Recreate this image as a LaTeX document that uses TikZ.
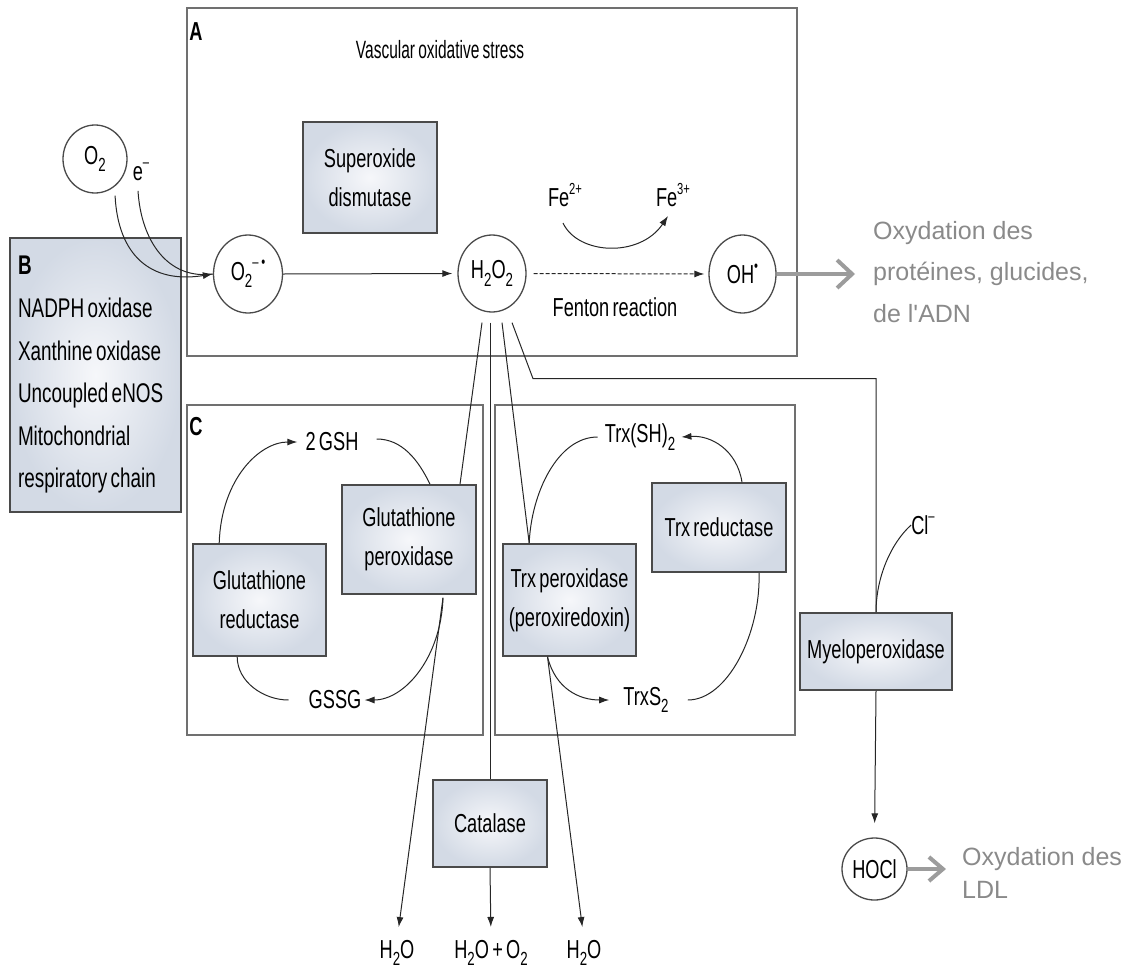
\documentclass[tikz,border=0pt]{standalone}
\usepackage{fontspec}
\setmainfont{Liberation Sans}[FakeStretch=0.70,WordSpace=0.65]
\newfontfamily\condf{Liberation Sans}[FakeStretch=0.62,WordSpace=0.75]
\newfontfamily\grayf{Liberation Sans}
\usetikzlibrary{arrows.meta,shapes.geometric,calc}
\definecolor{boxfill}{HTML}{D3DAE5}
\definecolor{boxin}{HTML}{F6F7FA}
\definecolor{edge}{HTML}{4A4A4A}
\definecolor{frame}{HTML}{707070}
\definecolor{txtgray}{HTML}{8A8A8A}
\definecolor{arrgray}{HTML}{9C9C9C}
\newcommand{\mysub}[1]{\raisebox{-0.55ex}{\fontsize{19}{19}\selectfont #1}}
\newcommand{\mysup}[1]{\raisebox{0.9ex}{\fontsize{16}{16}\selectfont #1}}
\begin{document}
\begin{tikzpicture}[x=1pt,y=-1pt,
  every node/.style={font=\fontsize{26}{39}\selectfont, inner sep=0pt},
  enz/.style={rectangle, draw=edge, line width=1.6pt, inner color=boxin, outer color=boxfill, align=center},
  mol/.style={ellipse, draw=edge, line width=1.3pt, fill=white},
  panel/.style={draw=frame, line width=1.3pt},
  conn/.style={line width=1pt, draw=black!85},
  arr/.style={conn, -{Latex[length=10pt,width=7pt]}},
  bigarr/.style={line width=4.5pt, draw=arrgray, -{Straight Barb[length=15pt,width=28pt,line width=4pt]}},
  grayt/.style={font=\grayf\fontsize{25}{41.5}\selectfont, text=txtgray, align=left},
  lab/.style={font=\bfseries\fontsize{26}{26}\selectfont},
]
\useasboundingbox (0,0) rectangle (1137,977);

% panels
\draw[panel] (187,8) rectangle (797,356);
\draw[panel] (187,405) rectangle (483,735);
\draw[panel] (495,405) rectangle (795,735);

\node[lab] (la) at (196,32) {A};
\node[font=\condf\fontsize{25}{25}\selectfont] (title) at (440,50) {Vascular oxidative stress};
\node[lab] (lc) at (196,427) {C};

% source box B
\node[enz, minimum width=171pt, minimum height=274pt, align=flush left, text width=155pt,
      font=\fontsize{27}{42.6}\selectfont] (bsrc) at (95.5,375)
  {\textbf{B}\\NADPH oxidase\\Xanthine oxidase\\Uncoupled eNOS\\Mitochondrial\\respiratory chain};

% molecules
\node[mol, minimum width=64pt, minimum height=68pt] (o2) at (95,159) {O\mysub{2}};
\node (em) at (141,172) {e\mysup{–}};
\node[mol, minimum width=69pt, minimum height=78pt] (sup) at (248,274) {O\mysub{2}\mysup{–\,•}};
\node[mol, minimum width=68pt, minimum height=77pt] (h2o2) at (492,273.5) {H\mysub{2}O\mysub{2}};
\node[mol, minimum width=67pt, minimum height=78pt] (oh) at (742.5,274) {OH\mysup{•}};
\node[mol, minimum width=65pt, minimum height=62pt] (hocl) at (874.5,869) {HOCl};

% enzymes
\node[enz, minimum width=134pt, minimum height=111pt] (sod) at (370,177.5) {Superoxide\\dismutase};
\node[enz, minimum width=134pt, minimum height=109pt] (gpx) at (409,539.5) {Glutathione\\peroxidase};
\node[enz, minimum width=133pt, minimum height=112pt] (gr) at (259.5,600) {Glutathione\\reductase};
\node[enz, minimum width=134pt, minimum height=89pt] (trxr) at (719,527.5) {Trx reductase};
\node[enz, minimum width=133pt, minimum height=112pt] (trxp) at (569.5,600) {Trx peroxidase\\(peroxiredoxin)};
\node[enz, minimum width=114pt, minimum height=87pt] (cat) at (490,823.5) {Catalase};
\node[enz, minimum width=152pt, minimum height=77pt] (mpo) at (876,651.5) {Myeloperoxidase};

% small labels
\node (fe2) at (565,195) {Fe\mysup{2+}};
\node (fe3) at (673,195) {Fe\mysup{3+}};
\node (fenton) at (615,307) {Fenton reaction};
\node (gsh) at (332,442) {2 GSH};
\node (gssg) at (335,700) {GSSG};
\node (trxsh) at (640,437) {Trx(SH)\mysub{2}};
\node (trxs) at (646,700) {TrxS\mysub{2}};
\node (cl) at (923,525) {Cl\mysup{–}};
\node (w1) at (397,953) {H\mysub{2}O};
\node (w2) at (491,953) {H\mysub{2}O + O\mysub{2}};
\node (w3) at (584,953) {H\mysub{2}O};

\node[grayt, anchor=west] (oxy1) at (873,272) {Oxydation des\\protéines, glucides,\\de l'ADN};
\node[grayt, anchor=west, font=\grayf\fontsize{25}{33}\selectfont] (oxy2) at (962,873) {Oxydation des\\LDL};

% O2 -> superoxide
\draw[arr] ($(o2.300)+(3,7)$) .. controls +(3,60) and +(-62,10) .. (sup.west);
\draw[conn] ($(em.south)+(-3,10)$) .. controls +(3,50) and +(-45,6) .. (sup.west);
\draw[arr, shorten >=5pt] (sup.east) -- (h2o2.west);
\draw[arr, dash pattern=on 4pt off 2pt, shorten <=7pt, shorten >=4pt] (h2o2.east) -- (oh.west);
\draw[arr] ($(fe2)+(-2,28)$) .. controls +(15,32) and +(-28,42) .. ($(fe3)+(-5,21)$);
\draw[bigarr] (oh.east) -- ($(oh.east -| oxy1.west)+(-18,0)$);

% H2O2 branches
\draw[conn] ($(h2o2.south)+(-10,10)$) -- ($(gpx.north)+(51,0)$);
\draw[conn] ($(h2o2.south)+(-2,10)$) -- (cat.north);
\draw[conn] ($(h2o2.south)+(10,10)$) -- ($(trxp.north west)+(27,0)$);
\draw[conn] ($(h2o2.south)+(20,10)$) -- ++(21,56) -| (mpo.north);

% glutathione cycle
\draw[arr, shorten >=8pt] ($(gr.north west)+(27,0)$) .. controls +(2,-64) and +(-46,0) .. (gsh.west);
\draw[conn] ($(gsh.east)+(18,-3)$) .. controls +(25,0) and +(-12,-25) .. ($(gpx.north)+(21,0)$);
\draw[arr] ($(gpx.south)+(34,3)$) .. controls +(-2,60) and +(40,0) .. ($(gssg.east)+(3,0)$);
\draw[conn] ($(gssg.west)+(-20,0)$) .. controls +(-25,0) and +(0,25) .. ($(gr.south west)+(45,0)$);

% thioredoxin cycle
\draw[arr] ($(trxr.north)+(23,0)$) .. controls +(-5,-32) and +(30,-2) .. ($(trxsh.east)+(6,0)$);
\draw[conn] ($(trxsh.west)+(-7,0)$) .. controls +(-40,0) and +(2,-50) .. ($(trxp.north west)+(27,0)$);
\draw[arr] ($(trxp.south)+(-22,0)$) .. controls +(8,32) and +(-30,0) .. ($(trxs.west)+(-14,0)$);
\draw[conn] ($(trxs.east)+(19,0)$) .. controls +(40,0) and +(2,60) .. ($(trxr.south)+(40,0)$);

% products
\draw[arr, shorten >=13pt] ($(gpx.south)+(34,3)$) -- (w1.north);
\draw[arr, shorten >=13pt] (cat.south) -- (w2.north);
\draw[arr, shorten >=13pt] ($(trxp.south)+(-22,0)$) -- (w3.north);

% myeloperoxidase
\draw[conn] (cl.west) .. controls +(-20,18) and +(0,-35) .. (mpo.north);
\draw[arr, shorten >=14pt] (mpo.south) -- (hocl.north);
\draw[bigarr, -{Straight Barb[length=14pt,width=24pt,line width=4pt]}] (hocl.east) -- ($(hocl.east -| oxy2.west)+(-16,0)$);
\end{tikzpicture}
\end{document}
